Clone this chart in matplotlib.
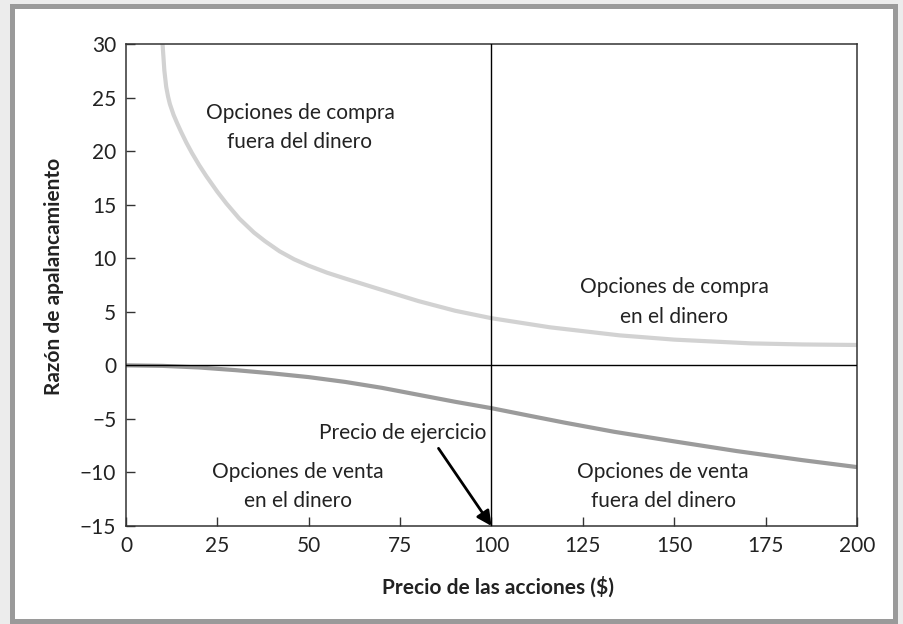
import matplotlib
matplotlib.use("Agg")
import matplotlib.pyplot as plt
from matplotlib.patches import Rectangle
from matplotlib import font_manager

# ---- data ----
call_x = [10, 10.5, 11, 11.5, 12, 13, 14, 15, 16.5, 18, 20, 22, 25, 27.5, 31, 35,
          38, 42, 46, 50, 55, 60, 68.5, 80, 90, 100, 116, 135, 150, 171, 185, 200]
call_y = [30, 27.5, 26.0, 25.1, 24.4, 23.4, 22.6, 21.85, 20.8, 19.85, 18.7, 17.65,
          16.2, 15.1, 13.7, 12.4, 11.6, 10.65, 9.9, 9.3, 8.65, 8.1, 7.2, 6.0, 5.1,
          4.4, 3.55, 2.8, 2.4, 2.05, 1.95, 1.9]
put_x = [0, 10, 20, 30, 40, 50, 60, 70, 80, 90, 100, 110, 120, 133.5, 150, 167,
         185, 200]
put_y = [0, -0.05, -0.2, -0.45, -0.75, -1.1, -1.55, -2.1, -2.75, -3.4, -4.0,
         -4.68, -5.35, -6.2, -7.1, -8.0, -8.85, -9.5]
xticks = [0, 25, 50, 75, 100, 125, 150, 175, 200]
yticks = [-15, -10, -5, 0, 5, 10, 15, 20, 25, 30]
strike = 100

avail = {f.name for f in font_manager.fontManager.ttflist}
font = 'DejaVu Sans'
for cand in ['Liberation Sans Narrow', 'Lato', 'Open Sans']:
    if cand in avail:
        font = cand
        break
plt.rcParams['font.family'] = [font, 'DejaVu Sans']

fig = plt.figure(figsize=(9.04, 6.24), dpi=100, facecolor='#ececec')
W, H = 904, 624
frame = Rectangle((12.5 / W, 1 - 620.5 / H), (895.5 - 12.5) / W, (620.5 - 5.5) / H,
                  transform=fig.transFigure, facecolor='white', edgecolor='#9a9a9a',
                  linewidth=3.6, zorder=-10)
fig.patches.append(frame)

ax = fig.add_axes([126 / W, 1 - 526 / H, (857 - 126) / W, (526 - 44) / H])
ax.set_zorder(5)
ax.set_facecolor('none')
ax.plot(call_x, call_y, color='#d2d2d2', lw=3.0, solid_joinstyle='round',
        solid_capstyle='butt', zorder=2)
ax.plot(put_x, put_y, color='#9b9b9b', lw=3.0, solid_joinstyle='round',
        solid_capstyle='butt', zorder=2)
ax.axvline(strike, color='black', lw=1.0, zorder=3)
ax.axhline(0, color='black', lw=1.0, zorder=3)

ax.set_xlim(0, 200)
ax.set_ylim(-15, 30)
ax.set_xticks(xticks)
ax.set_yticks(yticks)
for s in ax.spines.values():
    s.set_color('#333333')
    s.set_linewidth(1.1)
ax.tick_params(direction='in', length=6.5, width=1, color='#333333',
               labelsize=15, labelcolor='#222222', pad=7)

tk = dict(fontsize=15, color='#222222', ha='center', va='center',
          multialignment='center', linespacing=1.6)
ax.text(47.6, 22.2, 'Opciones de compra\nfuera del dinero', **tk)
ax.text(150.0, 5.94, 'Opciones de compra\nen el dinero', **tk)
ax.text(47.1, -11.3, 'Opciones de venta\nen el dinero', **tk)
ax.text(147.0, -11.3, 'Opciones de venta\nfuera del dinero', **tk)
ax.text(75.7, -6.35, 'Precio de ejercicio', **tk)
ax.annotate('', xy=(100, -15), xytext=(85.5, -7.75),
            arrowprops=dict(arrowstyle='-|>', color='black', lw=2,
                            mutation_scale=22, shrinkA=0, shrinkB=0))

fig.text(498 / W, 1 - 587 / H, 'Precio de las acciones ($)', fontsize=15,
         fontweight='bold', color='#222222', ha='center', va='center')
fig.text(54 / W, 1 - 276 / H, 'Razón de apalancamiento', fontsize=15,
         fontweight='bold', color='#222222', ha='center', va='center', rotation=90)

fig.savefig('out.png', dpi=100, facecolor=fig.get_facecolor())
